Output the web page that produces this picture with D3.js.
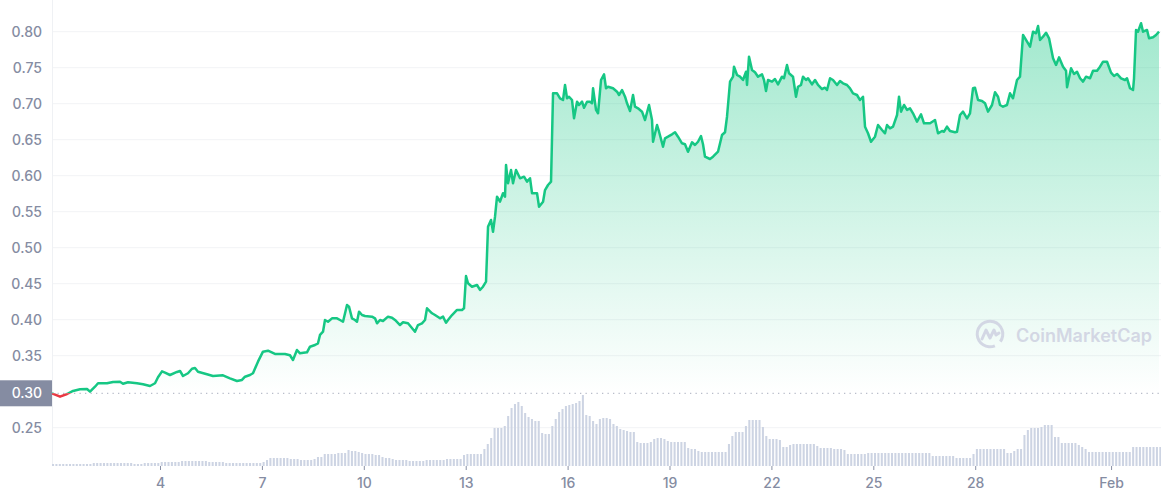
<!DOCTYPE html>
<html>
<head>
<meta charset="utf-8">
<script src="https://cdn.jsdelivr.net/npm/d3@7"></script>
<style>
  body { margin: 0; background: #fff; font-family: Inter, "Noto Sans", sans-serif; }
</style>
</head>
<body>
<div id="chart"></div>
<script>
// days are counted from 1 Jan 00:00
const startDate = new Date(2022, 0, 1);
const dayRange = [-0.18, 32.47];

const priceSeries = [
  [-0.180,0.2978],[0.056,0.2931],[0.262,0.2968],[0.439,0.3010],[0.645,0.3033],[0.851,0.3038],[0.939,0.3000],[1.086,0.3069],
  [1.175,0.3117],[1.440,0.3117],[1.616,0.3135],[1.822,0.3139],[1.911,0.3111],[2.058,0.3131],[2.323,0.3117],[2.500,0.3103],
  [2.706,0.3079],[2.853,0.3117],[2.941,0.3200],[3.059,0.3283],[3.147,0.3264],[3.294,0.3232],[3.500,0.3274],[3.589,0.3288],
  [3.677,0.3218],[3.824,0.3256],[3.942,0.3319],[4.030,0.3329],[4.118,0.3278],[4.383,0.3242],[4.559,0.3218],[4.854,0.3228],
  [5.060,0.3186],[5.266,0.3149],[5.413,0.3163],[5.502,0.3208],[5.649,0.3232],[5.737,0.3256],[5.884,0.3417],[6.031,0.3556],
  [6.179,0.3569],[6.385,0.3524],[6.679,0.3524],[6.826,0.3506],[6.915,0.3440],[7.032,0.3579],[7.121,0.3533],[7.327,0.3547],
  [7.416,0.3625],[7.563,0.3649],[7.651,0.3672],[7.710,0.3788],[7.799,0.3833],[7.857,0.3996],[7.946,0.3972],[8.064,0.4019],
  [8.211,0.4019],[8.299,0.3996],[8.388,0.3972],[8.505,0.4204],[8.564,0.4181],[8.652,0.4019],[8.741,0.3996],[8.800,0.3972],
  [8.859,0.4111],[8.947,0.4065],[9.035,0.4051],[9.241,0.4042],[9.330,0.4019],[9.389,0.3950],[9.477,0.3996],[9.565,0.3982],
  [9.712,0.4042],[9.830,0.4028],[9.919,0.3996],[10.066,0.3926],[10.154,0.3964],[10.301,0.3950],[10.507,0.3833],[10.595,0.3926],
  [10.713,0.3950],[10.802,0.3996],[10.861,0.4158],[11.008,0.4089],[11.096,0.4065],[11.243,0.4019],[11.332,0.4042],[11.420,0.3958],
  [11.479,0.3996],[11.597,0.4065],[11.744,0.4135],[11.891,0.4135],[11.950,0.4158],[12.009,0.4607],[12.068,0.4506],[12.185,0.4458],
  [12.333,0.4482],[12.421,0.4413],[12.509,0.4458],[12.598,0.4528],[12.657,0.5292],[12.745,0.5385],[12.804,0.5222],[12.863,0.5431],
  [12.922,0.5708],[13.010,0.5639],[13.098,0.5756],[13.157,0.5708],[13.187,0.6149],[13.246,0.5894],[13.334,0.6079],[13.393,0.5894],
  [13.481,0.6079],[13.599,0.5964],[13.717,0.5986],[13.805,0.5917],[13.894,0.5964],[13.953,0.5756],[14.100,0.5756],[14.159,0.5569],
  [14.277,0.5639],[14.335,0.5801],[14.424,0.5871],[14.512,0.5917],[14.571,0.7144],[14.689,0.7144],[14.777,0.7075],[14.865,0.7051],
  [14.924,0.7260],[14.983,0.7075],[15.042,0.7097],[15.130,0.7051],[15.189,0.6797],[15.278,0.7028],[15.336,0.6982],[15.425,0.7028],
  [15.484,0.6944],[15.572,0.7028],[15.660,0.7028],[15.719,0.7006],[15.749,0.7214],[15.837,0.6913],[15.896,0.6867],[15.984,0.7329],
  [16.073,0.7408],[16.131,0.7214],[16.190,0.7236],[16.337,0.7214],[16.455,0.7167],[16.514,0.7121],[16.602,0.7190],[16.691,0.7097],
  [16.750,0.7006],[16.838,0.6899],[16.926,0.7121],[16.985,0.6958],[17.073,0.6936],[17.191,0.6889],[17.279,0.6774],[17.397,0.6982],
  [17.485,0.6774],[17.515,0.6472],[17.633,0.6704],[17.692,0.6611],[17.809,0.6403],[17.868,0.6519],[17.956,0.6542],[18.074,0.6575],
  [18.162,0.6603],[18.250,0.6542],[18.368,0.6450],[18.456,0.6436],[18.545,0.6333],[18.663,0.6464],[18.751,0.6426],[18.839,0.6472],
  [18.927,0.6551],[18.986,0.6436],[19.045,0.6264],[19.192,0.6232],[19.281,0.6264],[19.428,0.6333],[19.546,0.6565],[19.634,0.6603],
  [19.693,0.6819],[19.782,0.7306],[19.870,0.7375],[19.899,0.7514],[19.988,0.7399],[20.076,0.7375],[20.164,0.7329],[20.253,0.7444],
  [20.282,0.7260],[20.341,0.7653],[20.429,0.7468],[20.517,0.7436],[20.606,0.7375],[20.724,0.7408],[20.782,0.7329],[20.841,0.7176],
  [20.900,0.7329],[21.018,0.7306],[21.106,0.7343],[21.194,0.7269],[21.312,0.7375],[21.371,0.7353],[21.459,0.7538],[21.518,0.7422],
  [21.636,0.7375],[21.724,0.7097],[21.783,0.7236],[21.871,0.7260],[21.930,0.7375],[22.019,0.7329],[22.078,0.7353],[22.195,0.7269],
  [22.284,0.7329],[22.372,0.7260],[22.490,0.7204],[22.578,0.7222],[22.637,0.7190],[22.726,0.7353],[22.814,0.7329],[22.932,0.7260],
  [23.020,0.7315],[23.108,0.7283],[23.226,0.7260],[23.314,0.7214],[23.403,0.7144],[23.520,0.7121],[23.609,0.7051],[23.697,0.7097],
  [23.756,0.6681],[23.844,0.6589],[23.933,0.6472],[24.050,0.6542],[24.139,0.6704],[24.257,0.6635],[24.345,0.6589],[24.404,0.6704],
  [24.492,0.6658],[24.581,0.6681],[24.699,0.6843],[24.757,0.7097],[24.816,0.6889],[24.904,0.6982],[24.993,0.6913],[25.081,0.6936],
  [25.169,0.6867],[25.287,0.6750],[25.405,0.6853],[25.493,0.6728],[25.670,0.6728],[25.817,0.6774],[25.905,0.6589],[26.023,0.6621],
  [26.082,0.6611],[26.170,0.6681],[26.258,0.6621],[26.405,0.6603],[26.464,0.6611],[26.553,0.6843],[26.641,0.6889],[26.759,0.6797],
  [26.847,0.6867],[26.935,0.7214],[26.994,0.7222],[27.083,0.7051],[27.200,0.7038],[27.289,0.7006],[27.377,0.6889],[27.495,0.6982],
  [27.583,0.7158],[27.672,0.7097],[27.730,0.6982],[27.819,0.6958],[27.936,0.6982],[28.025,0.7144],[28.113,0.7075],[28.231,0.7329],
  [28.319,0.7375],[28.408,0.7954],[28.496,0.7885],[28.614,0.7792],[28.702,0.8000],[28.791,0.7978],[28.850,0.8079],[28.909,0.7885],
  [28.997,0.7931],[29.085,0.7986],[29.174,0.7908],[29.292,0.7631],[29.380,0.7538],[29.468,0.7644],[29.586,0.7514],[29.674,0.7458],
  [29.704,0.7228],[29.822,0.7492],[29.910,0.7413],[29.998,0.7444],[30.087,0.7353],[30.175,0.7306],[30.263,0.7375],[30.381,0.7353],
  [30.469,0.7458],[30.587,0.7458],[30.675,0.7514],[30.764,0.7583],[30.881,0.7583],[30.999,0.7431],[31.087,0.7385],[31.176,0.7413],
  [31.294,0.7353],[31.411,0.7329],[31.470,0.7353],[31.559,0.7214],[31.647,0.7190],[31.676,0.7353],[31.735,0.8024],[31.794,0.8000],
  [31.883,0.8117],[31.941,0.8000],[32.059,0.8024],[32.118,0.7908],[32.236,0.7922],[32.324,0.7954],[32.412,0.8000]
];

// volume bars, one every 0.1 day starting at day -0.15
const volumeFirstDay = -0.15;
const volumeStepDays = 0.1;
const volumeSeries = [
  2,2,
  2,2,2,2,2,2,2,2,2,2,
  3,3,3,3,3,3,3,3,3,3,
  3,3,2,2,2,3,3,3,3,3,
  4,4,4,4,4,4,5,5,5,5,
  5,5,5,5,4,4,4,4,4,3,
  3,3,3,3,3,3,3,3,3,3,
  4,6,8,8,8,8,8,8,7,7,
  7,6,6,6,6,7,9,9,12,12,
  12,12,13,13,13,16,15,15,14,13,
  12,12,12,11,11,9,8,8,7,6,
  6,6,6,5,5,5,5,5,6,6,
  6,6,6,6,7,7,7,7,7,11,
  12,12,12,12,12,17,22,28,38,38,
  38,40,50,58,62,64,60,53,49,47,
  45,45,33,32,32,40,47,54,57,60,
  61,62,63,65,71,51,50,45,42,47,
  48,48,47,42,40,37,36,35,34,34,
  24,23,23,23,24,27,28,28,27,25,
  24,24,24,24,24,18,17,17,15,14,
  14,14,14,14,14,14,14,22,30,34,
  34,34,40,46,46,46,46,39,30,27,
  27,27,26,19,19,21,22,22,22,22,
  22,22,22,20,18,18,18,18,17,17,
  17,16,12,12,12,12,12,12,13,13,
  13,13,13,13,13,13,13,13,13,13,
  13,13,13,13,13,13,13,10,10,10,
  10,10,10,10,8,8,8,8,8,12,
  17,17,17,17,17,17,17,17,17,13,
  13,15,17,17,31,36,38,38,38,39,
  41,41,41,29,29,23,23,23,23,23,
  21,19,17,14,14,14,14,14,14,14,
  14,14,14,14,14,14,19,19,19,19,
  19,19,19,19,19
];

const yTicks = [0.25, 0.35, 0.40, 0.45, 0.50, 0.55, 0.60, 0.65, 0.70, 0.75, 0.80];
const xTickDates = ["2022-01-04", "2022-01-07", "2022-01-10", "2022-01-13", "2022-01-16",
  "2022-01-19", "2022-01-22", "2022-01-25", "2022-01-28", "2022-02-01"];
const xTickLabels = ["4", "7", "10", "13", "16", "19", "22", "25", "28", "Feb"];

const width = 1161, height = 500;
const left = 52, right = 1161;
const green = "#16c784", red = "#ea3943", grey = "#858ca2";

const dayToDate = d => new Date(startDate.getTime() + d * 864e5);
const parseDay = d3.timeParse("%Y-%m-%d");

const svg = d3.select("#chart").append("svg")
  .attr("width", width)
  .attr("height", height);

const x = d3.scaleTime()
  .domain(dayRange.map(dayToDate))
  .range([left, right]);
const y = d3.scaleLinear()
  .domain([0.25, 0.80])
  .range([427.7, 31.7]);
const v = d3.scaleLinear()
  .domain([0, 71])
  .range([466, 395]);

const openPrice = priceSeries[0][1];
const yOpen = y(openPrice);

// grid
svg.append("g")
  .selectAll("line")
  .data(yTicks)
  .join("line")
  .attr("x1", left)
  .attr("x2", right)
  .attr("y1", d => y(d))
  .attr("y2", d => y(d))
  .attr("stroke", "#f2f3f5")
  .attr("stroke-width", 1);

svg.append("line")
  .attr("x1", left + 0.5).attr("x2", left + 0.5)
  .attr("y1", 0).attr("y2", 466)
  .attr("stroke", "#eff1f4");

// volume
const barW = x(dayToDate(volumeStepDays)) - x(dayToDate(0));
svg.append("g")
  .selectAll("rect")
  .data(volumeSeries)
  .join("rect")
  .attr("x", (d, i) => x(dayToDate(volumeFirstDay + i * volumeStepDays)) - barW * 0.3)
  .attr("width", barW * 0.6)
  .attr("y", d => v(d))
  .attr("height", d => v(0) - v(d))
  .attr("fill", "#cdd4e3");

// area gradient
const defs = svg.append("defs");
const grad = defs.append("linearGradient")
  .attr("id", "areaGrad")
  .attr("gradientUnits", "userSpaceOnUse")
  .attr("x1", 0).attr("x2", 0)
  .attr("y1", y(0.81)).attr("y2", yOpen);
grad.append("stop").attr("offset", 0).attr("stop-color", green).attr("stop-opacity", 0.4);
grad.append("stop").attr("offset", 1).attr("stop-color", green).attr("stop-opacity", 0);

defs.append("clipPath").attr("id", "above")
  .append("rect").attr("x", 0).attr("y", 0).attr("width", width).attr("height", yOpen);
defs.append("clipPath").attr("id", "below")
  .append("rect").attr("x", 0).attr("y", yOpen).attr("width", width).attr("height", height - yOpen);

const area = d3.area()
  .x(d => x(dayToDate(d[0])))
  .y0(yOpen)
  .y1(d => y(d[1]));
const line = d3.line()
  .x(d => x(dayToDate(d[0])))
  .y(d => y(d[1]));

svg.append("path")
  .datum(priceSeries)
  .attr("d", area)
  .attr("fill", "url(#areaGrad)")
  .attr("clip-path", "url(#above)");

// opening price reference
svg.append("line")
  .attr("x1", left).attr("x2", right)
  .attr("y1", yOpen).attr("y2", yOpen)
  .attr("stroke", "#b9bdca")
  .attr("stroke-width", 1.3)
  .attr("stroke-dasharray", "1.3,4.2");

svg.append("path")
  .datum(priceSeries)
  .attr("d", line)
  .attr("fill", "none")
  .attr("stroke", green)
  .attr("stroke-width", 2.5)
  .attr("stroke-linejoin", "round")
  .attr("clip-path", "url(#above)");
svg.append("path")
  .datum(priceSeries)
  .attr("d", line)
  .attr("fill", "none")
  .attr("stroke", red)
  .attr("stroke-width", 2.5)
  .attr("stroke-linejoin", "round")
  .attr("clip-path", "url(#below)");

// y axis
const yAxis = svg.append("g")
  .attr("transform", `translate(${left},0)`)
  .call(d3.axisLeft(y).tickValues(yTicks).tickFormat(d3.format(".2f")).tickSize(0).tickPadding(10));
yAxis.select(".domain").remove();
yAxis.selectAll("text")
  .attr("fill", grey)
  .style("font-family", "Inter, sans-serif")
  .style("font-size", "14px")
  .style("font-weight", 500);

// opening price label
svg.append("rect")
  .attr("x", 0).attr("y", yOpen - 13)
  .attr("width", left).attr("height", 26)
  .attr("fill", "#858ca2");
svg.append("text")
  .attr("x", left - 10).attr("y", yOpen)
  .attr("dy", "0.35em")
  .attr("text-anchor", "end")
  .attr("fill", "#fff")
  .style("font-family", "Inter, sans-serif")
  .style("font-size", "14px")
  .style("font-weight", 500)
  .text(d3.format(".2f")(openPrice));

// x axis
const xAxis = svg.append("g")
  .attr("transform", "translate(0,466)")
  .call(d3.axisBottom(x)
    .tickValues(xTickDates.map(parseDay))
    .tickFormat((d, i) => xTickLabels[i])
    .tickSize(4)
    .tickPadding(8));
xAxis.select(".domain").remove();
xAxis.selectAll("line").attr("stroke", "#8a91a5");
xAxis.selectAll("text")
  .attr("fill", grey)
  .style("font-family", "Inter, sans-serif")
  .style("font-size", "14px")
  .style("font-weight", 500);

// watermark
const wm = svg.append("g").attr("transform", "translate(990,334)");
wm.append("path")
  .attr("d", d3.arc().innerRadius(11.3).outerRadius(14.3).startAngle(2.75).endAngle(2.2 + 2 * Math.PI)())
  .attr("fill", "#d3d7e4");
wm.append("path")
  .attr("d", "M-8,5 L-4,-4 L0,4 L4,-4 L6,1 L9,-1")
  .attr("fill", "none")
  .attr("stroke", "#d3d7e4")
  .attr("stroke-width", 3)
  .attr("stroke-linejoin", "round")
  .attr("stroke-linecap", "round");
svg.append("text")
  .attr("x", 1016).attr("y", 342)
  .attr("fill", "#d3d7e4")
  .style("font-family", "Inter, sans-serif")
  .style("font-size", "18px")
  .style("font-weight", 600)
  .text("CoinMarketCap");
</script>
</body>
</html>
